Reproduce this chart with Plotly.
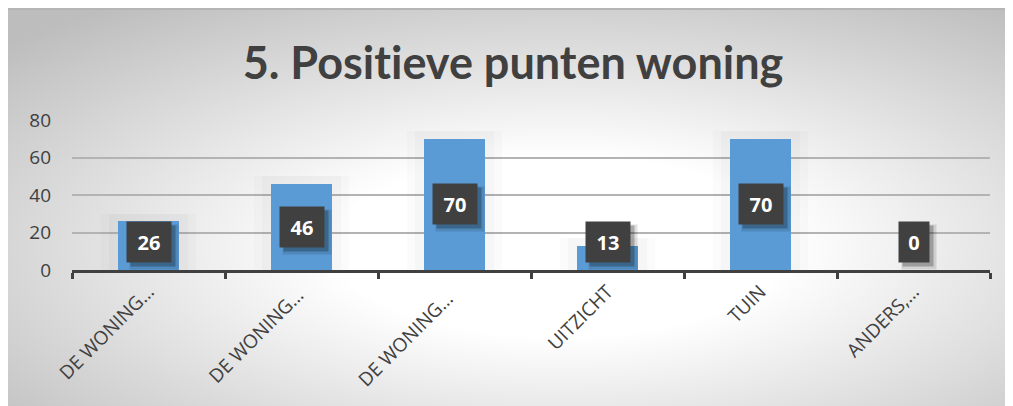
import base64
import plotly.graph_objects as go

categories = ["DE WONING…", "DE WONING… ", "DE WONING…  ", "UITZICHT", "TUIN", "ANDERS,…"]
values = [26, 46, 70, 13, 70, 0]
y_ticks = [0, 20, 40, 60, 80]
title_text = "5. Posit\u200cieve punten woning"

W, H = 1013, 406
L, R, T, B = 64, 31, 112, 144
pw, ph = W - L - R, H - T - B
VW, VH = 1005, 398  # visible part of the chart

svg = (
    f'<svg xmlns="http://www.w3.org/2000/svg" width="{W}" height="{H}" viewBox="0 0 {W} {H}" preserveAspectRatio="none">'
    f'<defs><radialGradient id="g" gradientUnits="userSpaceOnUse" cx="{0.55 * VW}" cy="{0.6 * VH}" r="{0.75 * VW}" '
    f'gradientTransform="translate({0.55 * VW} {0.6 * VH}) scale(1 {VH / VW}) translate({-0.55 * VW} {-0.6 * VH})">'
    '<stop offset="0" stop-color="#ffffff"/><stop offset="0.3" stop-color="#ffffff"/>'
    '<stop offset="1" stop-color="#bdbdbd"/></radialGradient></defs>'
    f'<rect x="0" y="0" width="{W}" height="{H}" fill="url(#g)"/>'
    f'<line x1="0" y1="1" x2="{W}" y2="1" stroke="#b5b5b5" stroke-width="2"/>'
    '</svg>'
)
src = "data:image/svg+xml;base64," + base64.b64encode(svg.encode()).decode()

fig = go.Figure()
# soft glow behind bars
for wdt, op in [(0.62, 0.015), (0.52, 0.02)]:
    fig.add_trace(go.Bar(x=categories, y=[v + 4 if v > 0 else 0 for v in values], width=wdt,
                         marker=dict(color=f"rgba(0,0,0,{op})", line=dict(width=0)),
                         hoverinfo="skip", showlegend=False))
fig.add_trace(go.Bar(x=categories, y=values, width=0.4,
                     marker=dict(color="#5b9bd5", line=dict(width=0)), showlegend=False))

for c, v in zip(categories, values):
    yv = max(v / 2, 15)
    s = str(v)
    bw = 16 + 14 * len(s)
    for dx, dy, extra, op in [(5, -5, 4, 0.12), (4, -4, 0, 0.25)]:
        fig.add_annotation(x=c, y=yv, xref="x", yref="y", text="", showarrow=False,
                           width=bw + extra, height=40 + extra, borderpad=0,
                           bgcolor=f"rgba(0,0,0,{op})", xshift=dx, yshift=dy)
    fig.add_annotation(x=c, y=yv, xref="x", yref="y", text=f"<b>{s}</b>", showarrow=False,
                       width=bw, height=40, borderpad=0, bgcolor="#404040",
                       font=dict(family="Open Sans", size=20, color="white"))

fig.update_layout(
    width=W, height=H,
    margin=dict(l=L, r=R, t=T, b=B, autoexpand=False),
    paper_bgcolor="white", plot_bgcolor="rgba(0,0,0,0)",
    barmode="overlay", bargap=0,
    title=dict(text=f"<b>{title_text}</b>", x=0.5025 * VW / W, xref="container",
               y=1 - 55 / H, yanchor="middle", xanchor="center",
               font=dict(family="Lato", size=45, color="#404040")),
    images=[dict(source=src, xref="paper", yref="paper",
                 x=-L / pw, y=(H - B) / ph, sizex=W / pw, sizey=H / ph,
                 xanchor="left", yanchor="top", sizing="stretch", layer="below")],
    xaxis=dict(tickangle=-45, tickfont=dict(family="Open Sans", size=19, color="#404040"),
               showline=True, linecolor="#404040", linewidth=3,
               ticks="outside", tickson="boundaries", ticklen=6, tickwidth=3, tickcolor="#404040",
               showgrid=False, fixedrange=True),
    yaxis=dict(range=[0, 80], tickvals=y_ticks, showgrid=True, gridcolor="#b3b3b3", gridwidth=1.5,
               zeroline=False, showline=False, ticks="", ticklabelstandoff=20,
               tickfont=dict(family="Open Sans", size=19, color="#404040"), fixedrange=True),
)
fig.write_html("out.html")
